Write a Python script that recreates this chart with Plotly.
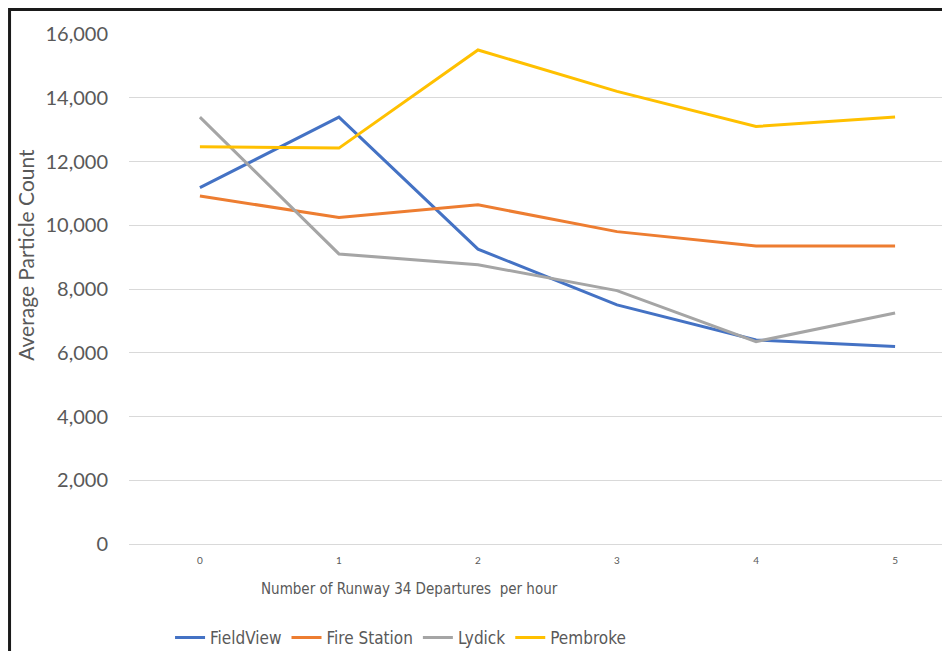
import plotly.graph_objects as go

departures = [0, 1, 2, 3, 4, 5]
tick_labels = ["0", "1", "2", "3", "4", "5"]

fieldview = [11180, 13390, 9250, 7500, 6400, 6200]
fire_station = [10920, 10240, 10640, 9800, 9350, 9350]
lydick = [13390, 9100, 8760, 7950, 6350, 7250]
pembroke = [12460, 12420, 15500, 14200, 13100, 13400]

series = [
    ("FieldView", fieldview, "#4472C4"),
    ("Fire Station", fire_station, "#ED7D31"),
    ("Lydick", lydick, "#A5A5A5"),
    ("Pembroke", pembroke, "#FFC000"),
]

fig = go.Figure()
for name, values, color in series:
    fig.add_trace(
        go.Scatter(
            x=departures,
            y=values,
            name=name,
            mode="lines",
            line=dict(color=color, width=3),
        )
    )

grey = "#595959"
narrow = "DejaVu Sans Condensed, Liberation Sans"
body = "Lato, Open Sans, sans-serif"

# page body has an 8px margin, so the figure is 8px smaller each way
fig.update_layout(
    width=942,
    height=643,
    margin=dict(l=121, r=0, t=26, b=107, autoexpand=False),
    plot_bgcolor="white",
    paper_bgcolor="white",
    font=dict(family=body, color=grey),
    showlegend=True,
    legend=dict(
        orientation="h",
        x=0.05,
        y=-0.184,
        xanchor="left",
        yanchor="middle",
        font=dict(family=narrow, size=17, color=grey),
        itemwidth=30,
        tracegroupgap=0,
    ),
    xaxis=dict(
        range=[-0.51, 5.395],
        tickvals=departures,
        ticktext=tick_labels,
        tickfont=dict(size=10, color=grey),
        showgrid=False,
        zeroline=False,
        showline=False,
        ticks="",
        ticklabelstandoff=9,
    ),
    yaxis=dict(
        range=[0, 16000],
        dtick=2000,
        tickformat=",d",
        tickfont=dict(size=20, color=grey),
        showgrid=True,
        gridcolor="#D9D9D9",
        gridwidth=1,
        zeroline=True,
        zerolinecolor="#D9D9D9",
        zerolinewidth=1,
        showline=False,
        ticks="",
        ticklabelstandoff=20,
    ),
    annotations=[
        dict(
            text="Number of Runway 34 Departures  per hour",
            xref="paper",
            yref="paper",
            x=0.342,
            y=-0.088,
            xanchor="center",
            yanchor="middle",
            showarrow=False,
            font=dict(family=narrow, size=15, color=grey),
        ),
        dict(
            text="Average Particle Count",
            xref="paper",
            yref="paper",
            x=-0.1255,
            y=0.567,
            xanchor="center",
            yanchor="middle",
            textangle=-90,
            showarrow=False,
            font=dict(family=body, size=21, color=grey),
        ),
    ],
    shapes=[
        dict(
            type="rect",
            xref="paper",
            yref="paper",
            x0=-0.1455,
            x1=1.2,
            y0=-0.3,
            y1=1.048,
            line=dict(color="#1a1a1a", width=3),
            fillcolor="rgba(0,0,0,0)",
            layer="above",
        )
    ],
)

fig.write_html("out.html")
